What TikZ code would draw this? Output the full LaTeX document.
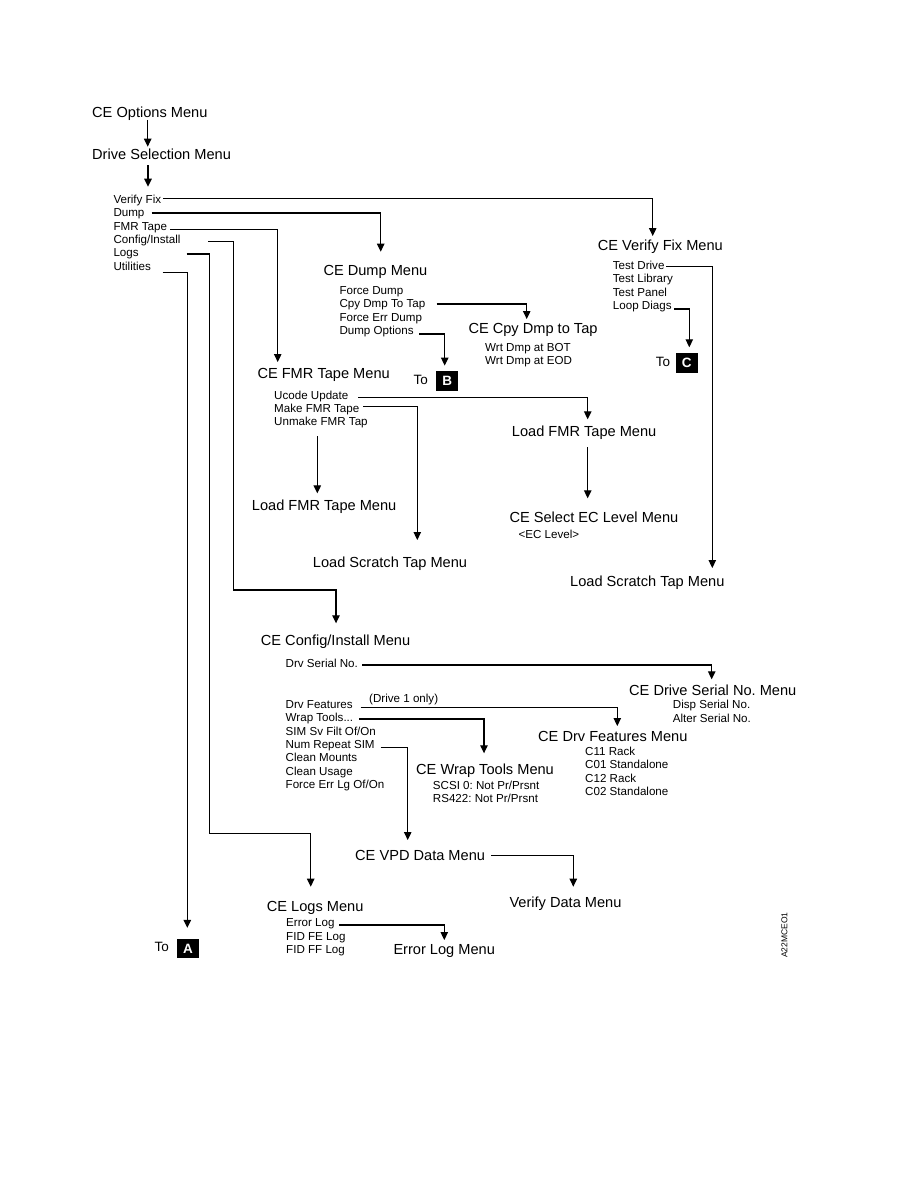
\documentclass[tikz,border=0pt]{standalone}
\usepackage{fontspec}
\setmainfont{Liberation Sans}
\usetikzlibrary{arrows.meta}
\tikzset{
 big/.style={anchor=base west, inner sep=0pt, font=\frenchspacing\fontsize{14.6}{17}\selectfont},
 small/.style={anchor=base west, inner sep=0pt, font=\frenchspacing\fontsize{11.6}{14}\selectfont},
 tolbl/.style={anchor=base west, inner sep=0pt, font=\fontsize{13.5}{16}\selectfont},
 lbox/.style={fill=black, text=white, inner sep=0pt, minimum width=21.5pt, minimum height=19.5pt, font=\bfseries\fontsize{13.5}{16}\selectfont},
 arr/.style={line width=1.1pt, -{Triangle[length=8pt,width=7.5pt]}},
}
\begin{document}
\frenchspacing
\begin{tikzpicture}[x=1pt,y=-1pt]
\useasboundingbox[fill=white] (0,0) rectangle (918,1188);
% ---- headings
\node[big] (opt) at (92,117.5) {CE Options Menu};
\node[big] (dsm) at (92,160) {Drive Selection Menu};
\node[small] (iVF) at (113.3,203.3) {Verify Fix};
\node[small] (iDump) at (113.3,216.7) {Dump};
\node[small] (iFMR) at (113.3,230) {FMR Tape};
\node[small] (iCfg) at (113.3,243.3) {Config/Install};
\node[small] (iLogs) at (113.3,256.7) {Logs};
\node[small] (iUtil) at (113.3,270) {Utilities};
% ---- dump
\node[big] (dmp) at (323.3,275.7) {CE Dump Menu};
\node[small] (dFD) at (339.3,294.3) {Force Dump};
\node[small] (dCpy) at (339.3,307.7) {Cpy Dmp To Tap};
\node[small] (dFE) at (339.3,321) {Force Err Dump};
\node[small] (dOpt) at (339.3,334) {Dump Options};
\node[big] (cpy) at (468.3,333.3) {CE Cpy Dmp to Tap};
\node[small] (cBOT) at (485,351.7) {Wrt Dmp at BOT};
\node[small] (cEOD) at (485,364.3) {Wrt Dmp at EOD};
\node[tolbl] (toB) at (413.3,384.5) {To};
\node[lbox] (B) at (447.2,381.2) {B};
% ---- verify fix
\node[big] (vfm) at (597.7,250) {CE Verify Fix Menu};
\node[small] (vTD) at (612.7,269.3) {Test Drive};
\node[small] (vTL) at (612.7,282.7) {Test Library};
\node[small] (vTP) at (612.7,296) {Test Panel};
\node[small] (vLD) at (612.7,309.3) {Loop Diags};
\node[tolbl] (toC) at (655.7,366.7) {To};
\node[lbox] (C) at (686.8,362.8) {C};
% ---- FMR
\node[big] (fmr) at (257.3,378.3) {CE FMR Tape Menu};
\node[small] (fUU) at (274,399) {Ucode Update};
\node[small] (fMK) at (274,412.3) {Make FMR Tape};
\node[small] (fUM) at (274,425.7) {Unmake FMR Tap};
\node[big] (lfr) at (511.7,436.7) {Load FMR Tape Menu};
\node[big] (lfl) at (251.7,510.7) {Load FMR Tape Menu};
\node[big] (sel) at (509.3,522.3) {CE Select EC Level Menu};
\node[small] (ecl) at (518.3,538.3) {<EC Level>};
\node[big] (lsl) at (312.7,567.3) {Load Scratch Tap Menu};
\node[big] (lsr) at (570,586.7) {Load Scratch Tap Menu};
% ---- config
\node[big] (cfg) at (260.7,645) {CE Config/Install Menu};
\node[small] (kDSN) at (285.5,667.3) {Drv Serial No.};
\node[small] (kDF) at (285.5,708.3) {Drv Features};
\node[small] (kWT) at (285.5,721.7) {Wrap Tools...};
\node[small] (kSIM) at (285.5,735) {SIM Sv Filt Of/On};
\node[small] (kNR) at (285.5,748.3) {Num Repeat SIM};
\node[small] (kCM) at (285.5,761.7) {Clean Mounts};
\node[small] (kCU) at (285.5,775) {Clean Usage};
\node[small] (kFE) at (285.5,788.3) {Force Err Lg Of/On};
\node[small] (d1) at (369,702.5) {(Drive 1 only)};
\node[big] (dsn) at (629,695.7) {CE Drive Serial No. Menu};
\node[small] (sDisp) at (672.7,708.3) {Disp Serial No.};
\node[small] (sAlt) at (672.7,722.7) {Alter Serial No.};
\node[big] (dfm) at (538,741) {CE Drv Features Menu};
\node[small] (fC11) at (585,755) {C11 Rack};
\node[small] (fC01) at (585,768.5) {C01 Standalone};
\node[small] (fC12) at (585,782) {C12 Rack};
\node[small] (fC02) at (585,795.5) {C02 Standalone};
\node[big] (wtm) at (416,774) {CE Wrap Tools Menu};
\node[small] (wS) at (432.7,789.3) {SCSI 0: Not Pr/Prsnt};
\node[small] (wR) at (432.7,802.7) {RS422: Not Pr/Prsnt};
\node[big] (vpd) at (355,860) {CE VPD Data Menu};
\node[big] (vdm) at (509.3,907.3) {Verify Data Menu};
% ---- logs
\node[big] (lgm) at (266.7,911) {CE Logs Menu};
\node[small] (gEL) at (286,926.7) {Error Log};
\node[small] (gFE) at (286,940) {FID FE Log};
\node[small] (gFF) at (286,953.3) {FID FF Log};
\node[big] (elm) at (393.3,954) {Error Log Menu};
\node[tolbl] (toA) at (154.3,951.7) {To};
\node[lbox] (A) at (188,948.5) {A};
\node[rotate=90, inner sep=0pt, font=\fontsize{8.5}{10}\selectfont] (code) at (784.5,935) {A22MCEO1};
% ---- connectors
\draw[arr] ([shift={(55.7,2.5)}]opt.base west) -- ([shift={(55.7,-13.3)}]dsm.base west);
\draw[arr] ([shift={(56,5)}]dsm.base west) -- ([shift={(34.7,-16.6)}]iVF.base west);
\draw[arr] ([shift={(50,-4.6)}]iVF.base west) -| ([shift={(55,-14)}]vfm.base west);
\draw[arr] ([shift={(38.4,-3.7)}]iDump.base west) -| ([shift={(57.4,-24)}]dmp.base west);
\draw[arr] ([shift={(56.7,-0.7)}]iFMR.base west) -| ([shift={(20.4,-16.3)}]fmr.base west);
\draw[arr] ([shift={(95,-1.6)}]iCfg.base west) -- ++(25,0) -- ++(0,348.3) -| ([shift={(75.3,-21.7)}]cfg.base west);
\draw[arr] ([shift={(73.4,-2.7)}]iLogs.base west) -- ++(22.6,0) -- ++(0,579.3) -| ([shift={(44,-24.3)}]lgm.base west);
\draw[arr] ([shift={(49.4,2.7)}]iUtil.base west) -| ([shift={(-0.7,-10.7)}]A.north);
\draw[arr] ([shift={(97.4,-3.7)}]dCpy.base west) -| ([shift={(58.4,-14.3)}]cpy.base west);
\draw[arr] ([shift={(79.7,0)}]dOpt.base west) -| ([shift={(-2.5,-5.7)}]B.north);
\draw[arr] ([shift={(53.3,-2.6)}]vTD.base west) -| ([shift={(142.3,-18.7)}]lsr.base west);
\draw[arr] ([shift={(61.3,-0.3)}]vLD.base west) -| ([shift={(2.5,-5.6)}]C.north);
\draw[arr] ([shift={(84.3,-1.7)}]fUU.base west) -| ([shift={(76,-17.4)}]lfr.base west);
\draw[arr] ([shift={(89.3,-5.6)}]fMK.base west) -| ([shift={(104.6,-27.3)}]lsl.base west);
\draw[arr] ([shift={(43.3,10.3)}]fUM.base west) -- ([shift={(65.6,-17.4)}]lfl.base west);
\draw[arr] ([shift={(76,10.6)}]lfr.base west) -- ([shift={(78.4,-24)}]sel.base west);
\draw[arr] ([shift={(76.5,-2.3)}]kDSN.base west) -| ([shift={(82.7,-16.4)}]dsn.base west);
\draw[arr] ([shift={(75.2,-0.8)}]kDF.base west) -| ([shift={(79.3,-15)}]dfm.base west);
\draw[arr] ([shift={(73.5,-2.7)}]kWT.base west) -| ([shift={(68,-20.7)}]wtm.base west);
\draw[arr] ([shift={(95.2,-0.6)}]kNR.base west) -| ([shift={(52.7,-20)}]vpd.base west);
\draw[arr] ([shift={(136,-4.3)}]vpd.base west) -| ([shift={(64,-20.6)}]vdm.base west);
\draw[arr] ([shift={(53,-1.7)}]gEL.base west) -| ([shift={(51,-14)}]elm.base west);
\end{tikzpicture}
\end{document}
